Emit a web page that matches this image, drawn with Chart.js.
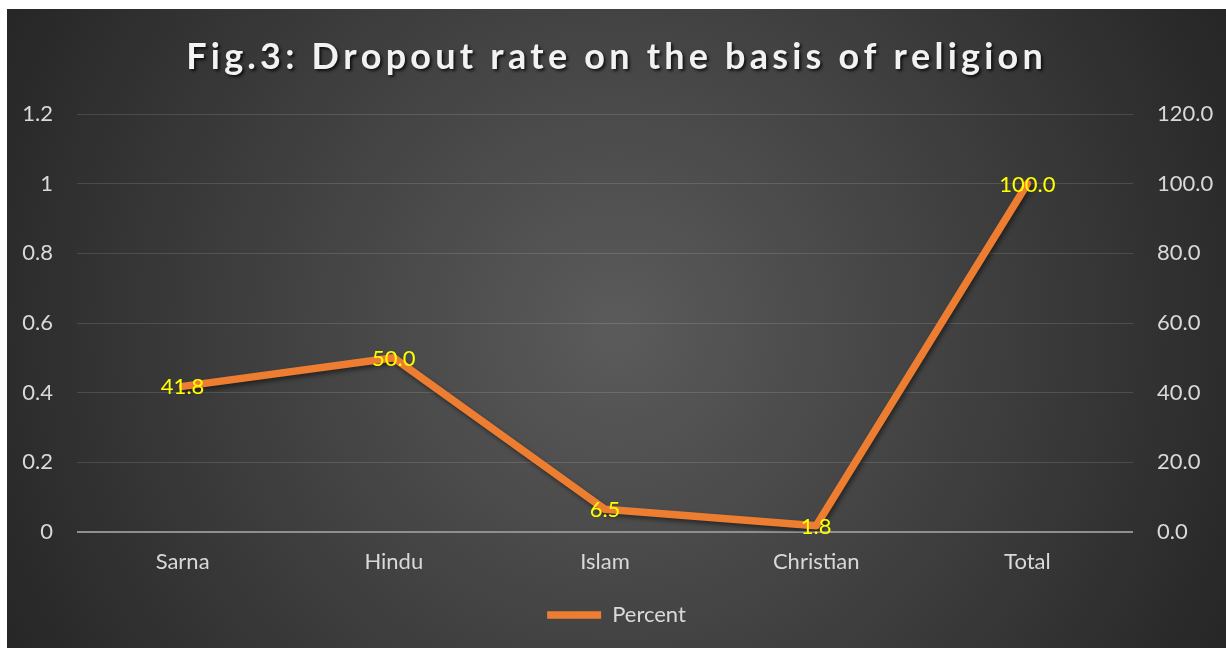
<!DOCTYPE html>
<html>
<head>
<meta charset="utf-8">
<script src="https://cdn.jsdelivr.net/npm/chart.js@4/dist/chart.umd.min.js"></script>
<style>
    html, body { margin: 0; padding: 0; background: #fff; }
    #wrap {
        position: absolute; left: 7px; top: 9px; width: 1219px; height: 639px;
        background: radial-gradient(circle farthest-corner at 50% 50%, #5b5b5b 0%, #262626 100%);
    }
</style>
</head>
<body>
<div id="wrap"><canvas id="religionChart"></canvas></div>
<script>
const chartTitle = 'Fig.3: Dropout rate on the basis of religion';
const religions = ['Sarna', 'Hindu', 'Islam', 'Christian', 'Total'];
const percentValues = [41.8, 50.0, 6.5, 1.8, 100.0];
const leftTicks = [0, 0.2, 0.4, 0.6, 0.8, 1, 1.2];
const rightTicks = [0, 20, 40, 60, 80, 100, 120];

const FONT = "Lato, 'Open Sans', sans-serif";

// yellow value labels sitting on each point
const valueLabels = {
    id: 'valueLabels',
    afterDatasetsDraw(chart) {
        const ctx = chart.ctx;
        const meta = chart.getDatasetMeta(0);
        ctx.save();
        ctx.font = '22px ' + FONT;
        ctx.fillStyle = '#ffff00';
        ctx.textAlign = 'center';
        ctx.textBaseline = 'middle';
        meta.data.forEach(function (pt, i) {
            ctx.fillText(percentValues[i].toFixed(1), pt.x, pt.y + 1);
        });
        ctx.restore();
    }
};

// spaced-out bold title with a soft shadow (Excel style)
const spacedTitle = {
    id: 'spacedTitle',
    afterDraw(chart) {
        const ctx = chart.ctx;
        const spacing = 4.2;
        ctx.save();
        ctx.font = 'bold 36px ' + FONT;
        ctx.fillStyle = '#f2f2f2';
        ctx.textBaseline = 'middle';
        ctx.textAlign = 'left';
        ctx.shadowColor = 'rgba(0,0,0,0.75)';
        ctx.shadowOffsetX = 2;
        ctx.shadowOffsetY = 2;
        ctx.shadowBlur = 3;
        const chars = chartTitle.split('');
        let total = 0;
        chars.forEach(function (ch) { total += ctx.measureText(ch).width + spacing; });
        total -= spacing;
        let x = chart.width / 2 - total / 2 - 2;
        chars.forEach(function (ch) {
            ctx.fillText(ch, x, 48);
            x += ctx.measureText(ch).width + spacing;
        });
        ctx.restore();
    }
};

const lineShadow = {
    id: 'lineShadow',
    beforeDatasetDraw(chart) {
        const ctx = chart.ctx;
        ctx.save();
        ctx.shadowColor = 'rgba(0,0,0,0.45)';
        ctx.shadowOffsetX = 2;
        ctx.shadowOffsetY = 3;
        ctx.shadowBlur = 4;
    },
    afterDatasetDraw(chart) {
        chart.ctx.restore();
    }
};

const ctx = document.getElementById('religionChart').getContext('2d');

new Chart(ctx, {
    type: 'line',
    data: {
        labels: religions,
        datasets: [{
            label: 'Percent',
            data: percentValues,
            yAxisID: 'y1',
            borderColor: '#ED7D31',
            backgroundColor: '#ED7D31',
            borderWidth: 7.5,
            borderCapStyle: 'round',
            borderJoinStyle: 'round',
            pointRadius: 0,
            pointStyle: 'line',
            tension: 0
        }]
    },
    options: {
        responsive: true,
        maintainAspectRatio: false,
        animation: false,
        layout: { padding: { left: 0, right: 0, top: 105, bottom: 12 } },
        plugins: {
            title: { display: false },
            legend: {
                position: 'bottom',
                labels: {
                    color: '#d9d9d9',
                    font: { family: FONT, size: 22 },
                    usePointStyle: true,
                    pointStyleWidth: 54,
                    boxWidth: 54,
                    boxHeight: 18,
                    padding: 14
                }
            },
            tooltip: { enabled: false }
        },
        scales: {
            x: {
                offset: true,
                grid: { display: false, drawTicks: false },
                border: { display: false },
                ticks: { color: '#d9d9d9', font: { family: FONT, size: 22 }, padding: 17 },
                afterFit: function (scale) { scale.height = 58; }
            },
            y: {
                position: 'left',
                min: 0,
                max: 1.2,
                afterBuildTicks: function (scale) {
                    scale.ticks = leftTicks.map(function (v) { return { value: v }; });
                },
                grid: {
                    drawTicks: false,
                    color: function (c) { return c.tick && c.tick.value === 0 ? '#8f8f8f' : 'rgba(255,255,255,0.13)'; },
                    lineWidth: function (c) { return c.tick && c.tick.value === 0 ? 2 : 1; }
                },
                border: { display: false },
                ticks: {
                    color: '#d9d9d9',
                    font: { family: FONT, size: 22 },
                    padding: 24,
                    callback: function (v) { return String(Number(v.toFixed(1))); }
                },
                afterFit: function (scale) { scale.width = 70; }
            },
            y1: {
                position: 'right',
                min: 0,
                max: 120,
                afterBuildTicks: function (scale) {
                    scale.ticks = rightTicks.map(function (v) { return { value: v }; });
                },
                grid: { display: false, drawTicks: false },
                border: { display: false },
                ticks: {
                    color: '#d9d9d9',
                    font: { family: FONT, size: 22 },
                    padding: 24,
                    callback: function (v) { return Number(v).toFixed(1); }
                },
                afterFit: function (scale) { scale.width = 93; }
            }
        }
    },
    plugins: [lineShadow, valueLabels, spacedTitle]
});
</script>
</body>
</html>
